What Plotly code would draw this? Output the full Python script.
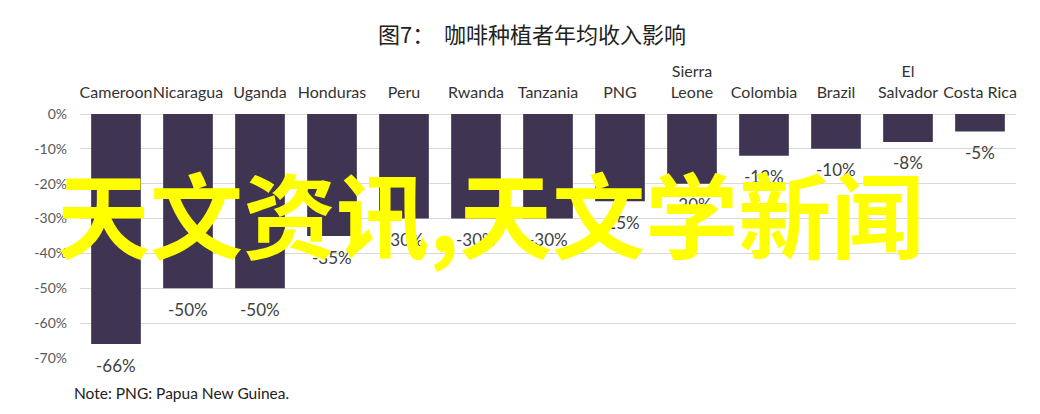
import plotly.graph_objects as go

categories = ["Cameroon", "Nicaragua", "Uganda", "Honduras", "Peru", "Rwanda", "Tanzania",
              "PNG", "Sierra<br>Leone", "Colombia", "Brazil", "El<br>Salvador", "Costa Rica"]
values = [-66, -50, -50, -35, -30, -30, -30, -25, -20, -12, -10, -8, -5]
y_ticks = [0, -10, -20, -30, -40, -50, -60, -70]
y_tick_labels = ["0%", "-10%", "-20%", "-30%", "-40%", "-50%", "-60%", "-70%"]
title_text = "图7：  咖啡种植者年均收入影响"
note_text = "Note: PNG: Papua New Guinea."
watermark_text = "天文资讯,天文学新闻"

bar_labels = [f"{v}%" for v in values]

W, H = 1040, 414
OFF = 8  # page body offset
ML, MR, MT, MB = 80 - OFF, 24 + OFF, 114 - OFF, 56 + OFF
pw = W - ML - MR
ph = H - MT - MB

def px_x(x):
    return (x - OFF - ML) / pw

def px_y(y):
    return (H - MB - (y - OFF)) / ph

fig = go.Figure()
fig.add_trace(go.Bar(
    x=categories,
    y=values,
    marker=dict(color="#3F3452", line=dict(width=0)),
    cliponaxis=False,
    hoverinfo="skip",
))

annotations = []
for cat, val, lab in zip(categories, values, bar_labels):
    annotations.append(dict(
        text=lab, x=cat, y=val, xref="x", yref="y", xanchor="center", yanchor="middle",
        yshift=-21, showarrow=False,
        font=dict(family="Lato, sans-serif", size=17, color="#404040"),
    ))

annotations += [
    dict(text=title_text, xref="paper", yref="paper", x=px_x(532), y=px_y(33),
         xanchor="center", yanchor="middle", showarrow=False,
         font=dict(family="Noto Sans CJK SC", size=22, color="#222222")),
    dict(text=note_text, xref="paper", yref="paper", x=px_x(72), y=px_y(393),
         xanchor="left", yanchor="middle", showarrow=False,
         font=dict(family="Lato, sans-serif", size=15.5, color="#222222")),
    dict(text="<b>" + watermark_text + "</b>", xref="paper", yref="paper",
         x=px_x(490), y=px_y(211), xanchor="center", yanchor="middle", showarrow=False,
         font=dict(family="Noto Sans CJK SC", size=93, color="#FFFF00")),
]

fig.update_layout(
    width=W, height=H,
    margin=dict(l=ML, r=MR, t=MT, b=MB),
    paper_bgcolor="white",
    plot_bgcolor="white",
    showlegend=False,
    bargap=0.31,
    xaxis=dict(
        side="top",
        showgrid=False,
        showline=False,
        zeroline=False,
        ticks="",
        tickangle=0,
        tickfont=dict(family="Lato, sans-serif", size=16, color="#333333"),
        ticklabelstandoff=12,
        fixedrange=True,
        automargin=False,
    ),
    yaxis=dict(
        range=[-70, 0],
        tickvals=y_ticks,
        ticktext=y_tick_labels,
        showgrid=True,
        gridcolor="#D9D9D9",
        gridwidth=1,
        zeroline=True,
        zerolinecolor="#D9D9D9",
        zerolinewidth=1,
        showline=False,
        ticks="",
        tickfont=dict(family="Lato, sans-serif", size=14, color="#595959"),
        ticklabelstandoff=12,
        fixedrange=True,
        automargin=False,
    ),
    annotations=annotations,
    shapes=[
        dict(type="rect", xref="paper", yref="paper", x0=px_x(1035), x1=px_x(1040),
             y0=px_y(414), y1=px_y(0), fillcolor="#8A8A8A", line=dict(width=0), layer="above"),
    ],
)

fig.write_html("out.html")
